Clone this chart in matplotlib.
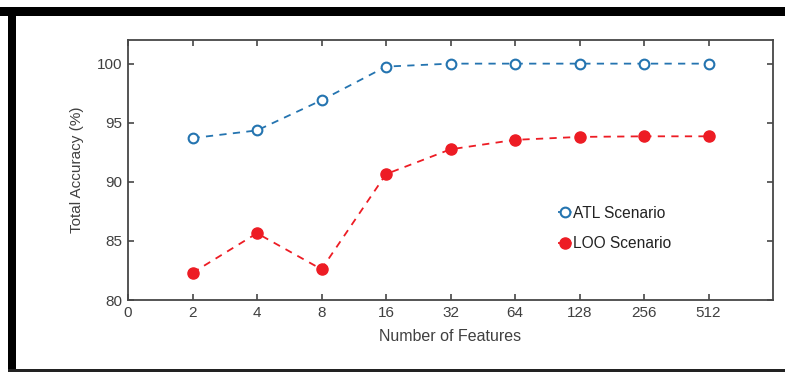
import matplotlib.pyplot as plt
from matplotlib.patches import Rectangle

plt.rcParams['font.family'] = ['Liberation Sans', 'DejaVu Sans']

tick_labels = ['0', '2', '4', '8', '16', '32', '64', '128', '256', '512']
features = [2, 4, 8, 16, 32, 64, 128, 256, 512]
atl = [93.7, 94.35, 96.9, 99.75, 100.0, 100.0, 100.0, 100.0, 100.0]
loo = [82.3, 85.65, 82.6, 90.65, 92.75, 93.55, 93.8, 93.85, 93.85]

pos = [tick_labels.index(str(f)) for f in features]
axc = '#474747'
blue = '#2474b0'
red = '#ed1c24'

fig = plt.figure(figsize=(7.85, 3.72), dpi=100)
W, H = 785, 372

# black frame around the figure
fig.patches.append(Rectangle((0 / W, 1 - 16 / H), 1, 9 / H, transform=fig.transFigure,
                             facecolor='black', edgecolor='none'))
fig.patches.append(Rectangle((8 / W, 0), 8 / W, 1 - 7 / H, transform=fig.transFigure,
                             facecolor='black', edgecolor='none'))
fig.patches.append(Rectangle((8 / W, 0), 1, 3 / H, transform=fig.transFigure,
                             facecolor='#222222', edgecolor='none'))

ax = fig.add_axes([128 / W, 1 - 300 / H, (773 - 128) / W, (300 - 40) / H])

ax.plot(pos, atl, '--o', color=blue, markerfacecolor='white', markeredgecolor=blue,
        markersize=7, markeredgewidth=1.5, linewidth=1.3, dashes=(4, 3.5), label='ATL Scenario')
ax.plot(pos, loo, '--o', color=red, markerfacecolor=red, markeredgecolor=red,
        markersize=8, linewidth=1.3, dashes=(4, 3.5), label='LOO Scenario')

ax.set_xlim(0, 10)
ax.set_ylim(80, 102)
ax.set_xticks(range(len(tick_labels)))
ax.set_xticklabels(tick_labels)
ax.set_yticks([80, 85, 90, 95, 100])

for s in ax.spines.values():
    s.set_color(axc)
    s.set_linewidth(1.3)
ax.tick_params(direction='in', length=4, width=1.2, color=axc, labelcolor='#404040',
               labelsize=11, top=True, right=True, pad=4)

ax.set_xlabel('Number of Features', fontsize=11.5, color='#404040', labelpad=7)
ax.set_ylabel('Total Accuracy (%)', fontsize=11, color='#404040', labelpad=9)

leg = ax.legend(loc='center left', bbox_to_anchor=(0.667, 0.275), frameon=False,
                fontsize=11.2, handlelength=0.9, handletextpad=0.05, labelspacing=1.0,
                borderpad=0, borderaxespad=0, markerscale=1.0)
for t in leg.get_texts():
    t.set_color('#222222')

fig.savefig('out.png', dpi=100)
